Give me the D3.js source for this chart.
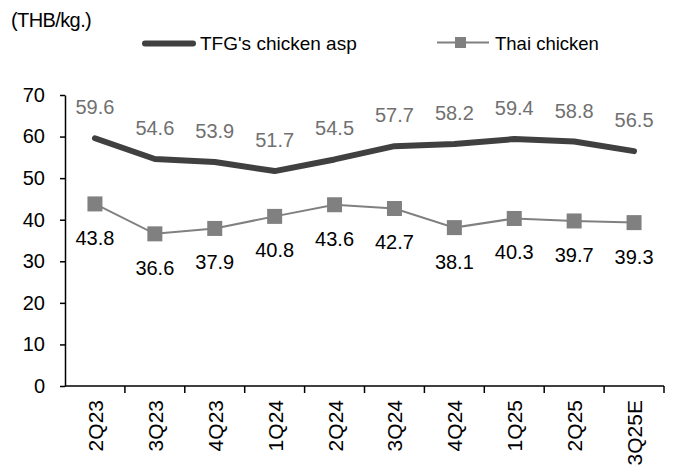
<!DOCTYPE html>
<html>
<head>
<meta charset="utf-8">
<script src="https://cdn.jsdelivr.net/npm/d3@7"></script>
<style>
  body { margin: 0; background: #fff; }
  text { font-family: "Liberation Sans", Arial, sans-serif; }
</style>
</head>
<body>
<script>
const quarters = ["2Q23", "3Q23", "4Q23", "1Q24", "2Q24", "3Q24", "4Q24", "1Q25", "2Q25", "3Q25E"];
const tfgAsp = [59.6, 54.6, 53.9, 51.7, 54.5, 57.7, 58.2, 59.4, 58.8, 56.5];
const thaiChicken = [43.8, 36.6, 37.9, 40.8, 43.6, 42.7, 38.1, 40.3, 39.7, 39.3];
const yTicks = [0, 10, 20, 30, 40, 50, 60, 70];

const width = 678, height = 475;
const margin = {top: 95, right: 14, bottom: 89, left: 65};

let svg = d3.select("body").append("svg")
    .attr("width", width)
    .attr("height", height);

let x = d3.scaleBand()
    .domain(quarters)
    .range([margin.left, width - margin.right])
    .padding(0);

let y = d3.scaleLinear()
    .domain([0, 70])
    .range([height - margin.bottom, margin.top]);

let cx = d => x(d) + x.bandwidth() / 2;

// title
svg.append("text")
    .attr("x", 11).attr("y", 27)
    .attr("font-size", 20)
    .attr("letter-spacing", -0.6)
    .text("(THB/kg.)");

// legend
let legend = svg.append("g");
legend.append("line")
    .attr("x1", 145).attr("x2", 193).attr("y1", 43.5).attr("y2", 43.5)
    .attr("stroke", "#404040").attr("stroke-width", 6).attr("stroke-linecap", "round");
legend.append("text")
    .attr("x", 200).attr("y", 50).attr("font-size", 19)
    .text("TFG's chicken asp");
legend.append("line")
    .attr("x1", 437).attr("x2", 489).attr("y1", 42.5).attr("y2", 42.5)
    .attr("stroke", "#808080").attr("stroke-width", 2);
legend.append("rect")
    .attr("x", 455).attr("y", 37).attr("width", 11).attr("height", 11)
    .attr("fill", "#808080");
legend.append("text")
    .attr("x", 495).attr("y", 50).attr("font-size", 18.5)
    .text("Thai chicken");

// y axis
let yAxis = svg.append("g")
    .attr("transform", "translate(" + margin.left + ",0)")
    .call(d3.axisLeft(y).tickValues(yTicks).tickSize(5).tickSizeOuter(0));
yAxis.select(".domain").attr("stroke", "#000").attr("stroke-width", 1.5);
yAxis.selectAll(".tick line").attr("stroke", "#000").attr("stroke-width", 1.5);
yAxis.selectAll(".tick text")
    .attr("font-size", 20).attr("fill", "#000")
    .attr("font-family", "Liberation Sans, Arial, sans-serif")
    .attr("x", -20);

// x axis with ticks at band boundaries
let xAxisY = y(0);
svg.append("line")
    .attr("x1", margin.left).attr("x2", width - margin.right)
    .attr("y1", xAxisY).attr("y2", xAxisY)
    .attr("stroke", "#000").attr("stroke-width", 1.5);
svg.selectAll(".xtick")
    .data(quarters)
    .enter()
    .append("line")
    .attr("class", "xtick")
    .attr("x1", d => x(d) + x.bandwidth()).attr("x2", d => x(d) + x.bandwidth())
    .attr("y1", xAxisY).attr("y2", xAxisY + 7)
    .attr("stroke", "#000").attr("stroke-width", 1.5);
svg.selectAll(".xlabel")
    .data(quarters)
    .enter()
    .append("text")
    .attr("class", "xlabel")
    .attr("transform", d => "translate(" + (cx(d) + 8) + "," + (xAxisY + 14) + ") rotate(-90)")
    .attr("text-anchor", "end")
    .attr("font-size", 21)
    .text(d => d);

// lines
let line = d3.line()
    .x((d, i) => cx(quarters[i]))
    .y(d => y(d));

svg.append("path")
    .datum(tfgAsp)
    .attr("d", line)
    .attr("fill", "none")
    .attr("stroke", "#404040")
    .attr("stroke-width", 6)
    .attr("stroke-linejoin", "round")
    .attr("stroke-linecap", "round");

svg.append("path")
    .datum(thaiChicken)
    .attr("d", line)
    .attr("fill", "none")
    .attr("stroke", "#808080")
    .attr("stroke-width", 2);

svg.selectAll(".marker")
    .data(thaiChicken)
    .enter()
    .append("rect")
    .attr("class", "marker")
    .attr("x", (d, i) => cx(quarters[i]) - 7.5)
    .attr("y", d => y(d) - 7.5)
    .attr("width", 15).attr("height", 15)
    .attr("fill", "#808080");

// data labels
svg.selectAll(".tfgLabel")
    .data(tfgAsp)
    .enter()
    .append("text")
    .attr("class", "tfgLabel")
    .attr("x", (d, i) => cx(quarters[i]))
    .attr("y", d => y(d) - 24)
    .attr("text-anchor", "middle")
    .attr("font-size", 20)
    .attr("fill", "#707070")
    .text(d => d.toFixed(1));

svg.selectAll(".thaiLabel")
    .data(thaiChicken)
    .enter()
    .append("text")
    .attr("class", "thaiLabel")
    .attr("x", (d, i) => cx(quarters[i]))
    .attr("y", d => y(d) + 41)
    .attr("text-anchor", "middle")
    .attr("font-size", 20)
    .attr("fill", "#000")
    .text(d => d.toFixed(1));
</script>
</body>
</html>
